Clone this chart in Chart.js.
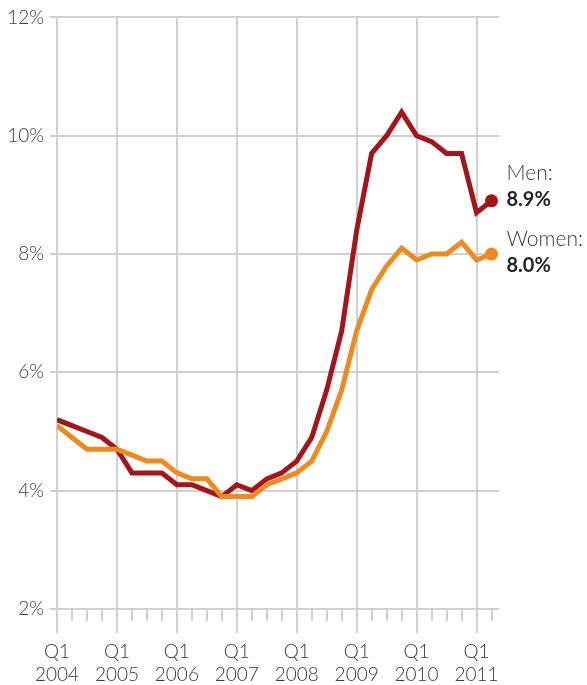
<!DOCTYPE html>
<html>
<head>
<meta charset="utf-8">
<script src="https://cdn.jsdelivr.net/npm/chart.js@4/dist/chart.umd.min.js"></script>
<style>
  html, body { margin: 0; padding: 0; background: #ffffff; }
  #wrap { width: 587px; height: 685px; position: relative; }
</style>
</head>
<body>
<div id="wrap"><canvas id="chart"></canvas></div>
<script>
// Unemployment rate by sex, quarterly, Q1 2004 – Q2 2011 (%)
const years = ['2004', '2005', '2006', '2007', '2008', '2009', '2010', '2011'];
const quarterLabel = 'Q1';
const yTicks = [2, 4, 6, 8, 10, 12];

const men = [5.2, 5.1, 5.0, 4.9, 4.7, 4.3, 4.3, 4.3, 4.1, 4.1, 4.0, 3.9, 4.1, 4.0, 4.2, 4.3,
             4.5, 4.9, 5.7, 6.7, 8.4, 9.7, 10.0, 10.4, 10.0, 9.9, 9.7, 9.7, 8.7, 8.9];
const women = [5.1, 4.9, 4.7, 4.7, 4.7, 4.6, 4.5, 4.5, 4.3, 4.2, 4.2, 3.9, 3.9, 3.9, 4.1, 4.2,
               4.3, 4.5, 5.0, 5.7, 6.7, 7.4, 7.8, 8.1, 7.9, 8.0, 8.0, 8.2, 7.9, 8.0];
const seriesNames = ['Men:', 'Women:'];
const seriesColors = ['#a51419', '#ef8a1f'];

const GRID = '#d0d0d0';
const TEXT = '#3a3a3a';
const FONT = 'Lato, "Open Sans", sans-serif';

const toPoints = arr => arr.map((v, i) => ({ x: i, y: v }));
const lastIdx = men.length - 1;

// short ticks for the non-Q1 quarters under the axis
const minorTicks = {
  id: 'minorTicks',
  afterDraw(chart) {
    const sx = chart.scales.x, ctx = chart.ctx;
    const y0 = chart.chartArea.bottom;
    ctx.save();
    ctx.strokeStyle = GRID;
    ctx.lineWidth = 2;
    for (let i = 0; i <= lastIdx; i++) {
      if (i % 4 === 0) continue;
      const x = Math.round(sx.getPixelForValue(i));
      ctx.beginPath();
      ctx.moveTo(x, y0);
      ctx.lineTo(x, y0 + 12);
      ctx.stroke();
    }
    ctx.restore();
  }
};

// name and latest value to the right of each line's end point
const endLabels = {
  id: 'endLabels',
  afterDatasetsDraw(chart) {
    const ctx = chart.ctx;
    const offsets = { 'Men:': 5, 'Women:': 18 };
    ctx.save();
    ctx.textAlign = 'left';
    ctx.textBaseline = 'alphabetic';
    chart.data.datasets.forEach((ds, di) => {
      const meta = chart.getDatasetMeta(di);
      const pt = meta.data[meta.data.length - 1];
      const v = ds.data[ds.data.length - 1].y;
      const base = pt.y + offsets[ds.label];
      const x = pt.x + 15;
      ctx.fillStyle = TEXT;
      ctx.font = '300 21px ' + FONT;
      ctx.fillText(ds.label, x, base - 26);
      ctx.fillStyle = '#262626';
      ctx.font = '700 20px ' + FONT;
      ctx.fillText(v.toFixed(1) + '%', x, base);
    });
    ctx.restore();
  }
};

const lineDataset = (label, arr, color) => ({
  label,
  data: toPoints(arr),
  borderColor: color,
  backgroundColor: color,
  borderWidth: 5,
  tension: 0,
  pointRadius: ctx => ctx.dataIndex === lastIdx ? 6.5 : 0,
  pointHoverRadius: 0,
  pointBorderWidth: 0,
  fill: false
});

new Chart(document.getElementById('chart'), {
  type: 'line',
  data: {
    datasets: [
      lineDataset(seriesNames[1], women, seriesColors[1]),
      lineDataset(seriesNames[0], men, seriesColors[0])
    ]
  },
  options: {
    responsive: true,
    maintainAspectRatio: false,
    animation: false,
    events: [],
    layout: { padding: { top: 16, right: 88, left: 0, bottom: 0 } },
    plugins: { legend: { display: false }, tooltip: { enabled: false } },
    scales: {
      x: {
        type: 'linear',
        min: 0,
        max: lastIdx + 0.5,
        afterBuildTicks: s => { s.ticks = s.ticks.filter(t => Number.isInteger(t.value)); },
        afterFit: s => { s.height = 76; },
        border: { display: false },
        grid: {
          color: c => (c.tick && c.tick.value % 4 === 0) ? GRID : 'rgba(0,0,0,0)',
          tickColor: c => (c.tick && c.tick.value % 4 === 0) ? GRID : 'rgba(0,0,0,0)',
          lineWidth: 2,
          tickLength: 24
        },
        ticks: {
          stepSize: 1,
          autoSkip: false,
          maxRotation: 0,
          padding: 8,
          color: TEXT,
          font: { family: FONT, size: 19, weight: '300', lineHeight: 1.18 },
          callback: v => v % 4 === 0 ? [quarterLabel, years[v / 4]] : ''
        }
      },
      y: {
        min: yTicks[0],
        max: yTicks[yTicks.length - 1],
        afterBuildTicks: s => { s.ticks = yTicks.map(v => ({ value: v })); },
        afterFit: s => { s.width = 57; },
        border: { display: false },
        grid: { color: GRID, lineWidth: 2, tickLength: 7 },
        ticks: {
          padding: 6,
          color: TEXT,
          font: { family: FONT, size: 19, weight: '300' },
          callback: v => v + '%'
        }
      }
    }
  },
  plugins: [minorTicks, endLabels]
});
</script>
</body>
</html>
